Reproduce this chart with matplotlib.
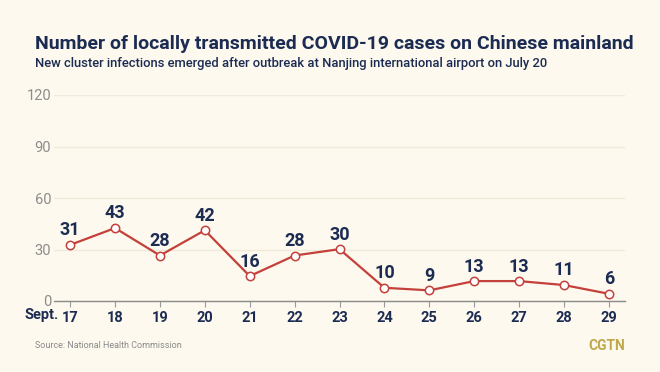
import matplotlib
matplotlib.use("Agg")
import matplotlib.pyplot as plt
from matplotlib.transforms import blended_transform_factory

days = [17, 18, 19, 20, 21, 22, 23, 24, 25, 26, 27, 28, 29]
# reported case counts (data labels)
cases = [31, 43, 28, 42, 16, 28, 30, 10, 9, 13, 13, 11, 6]
# marker heights as drawn in the reference chart
drawn = [32.7, 42.5, 26.5, 41.2, 14.5, 26.5, 30.2, 7.7, 6.2, 11.6, 11.6, 9.3, 4.2]
yticks = [0, 30, 60, 90, 120]

title = "Number of locally transmitted COVID-19 cases on Chinese mainland"
subtitle = "New cluster infections emerged after outbreak at Nanjing international airport on July 20"
source = "Source: National Health Commission"

BG = "#FDF9EE"
NAVY = "#1B2B52"
RED = "#C4403A"

fig = plt.figure(figsize=(6.6, 3.72), dpi=100, facecolor=BG)
ax = fig.add_axes([54/660, 71/372, (625-54)/660, 206/372], facecolor=BG)

ax.plot(days, drawn, color=RED, lw=1.6, marker="o", ms=6,
        markerfacecolor="white", markeredgecolor=RED, markeredgewidth=1.1, zorder=3)
for d, v, c in zip(days, drawn, cases):
    ax.annotate(str(c), (d, v), xytext=(0, 4), textcoords="offset points",
                ha="center", va="bottom", fontsize=13, fontweight="bold",
                color=NAVY, family="Roboto", zorder=4)

ax.set_ylim(0, 120)
ax.set_xlim(16.64, 29.36)
ax.set_yticks(yticks)
ax.set_xticks(days)
ax.set_xticklabels([str(d) for d in days])
ax.grid(axis="y", color="#EFEADB", lw=1.0)
ax.set_axisbelow(True)
for s in ["top", "right", "left"]:
    ax.spines[s].set_visible(False)
ax.spines["bottom"].set_color("#8A8A8A")
ax.spines["bottom"].set_linewidth(1.0)
ax.tick_params(axis="y", length=0, pad=2, labelsize=10.5, labelcolor="#8C8C8C")
ax.tick_params(axis="x", length=4, color="#9A9A9A", pad=3, labelsize=10.5, labelcolor=NAVY)
for lab in ax.get_xticklabels():
    lab.set_fontweight("bold")
    lab.set_family("Roboto")
for lab in ax.get_yticklabels():
    lab.set_family("Roboto")

trans = blended_transform_factory(ax.transData, ax.transAxes)
ax.annotate("Sept.", xy=(17, 0), xycoords=trans, xytext=(-8, -7 * 0.72),
            textcoords="offset points", ha="right", va="top",
            fontsize=10.5, fontweight="bold", color=NAVY, family="Roboto",
            annotation_clip=False)

fig.text(35/660, 1 - 44/372, title, ha="left", va="center", fontsize=14,
         fontweight="bold", color=NAVY, family="Roboto")
fig.text(35/660, 1 - 64/372, subtitle, ha="left", va="center", fontsize=9.4,
         fontweight="medium", color=NAVY, family="Roboto")
fig.text(35/660, 1 - 346/372, source, ha="left", va="center", fontsize=6.5,
         color="#8A8A8A", family="Roboto")
fig.text(625/660, 1 - 346/372, "CGTN", ha="right", va="center", fontsize=10,
         fontweight="bold", color="#BFA84C", family="Roboto")

fig.savefig("out.png", dpi=100, facecolor=BG)
